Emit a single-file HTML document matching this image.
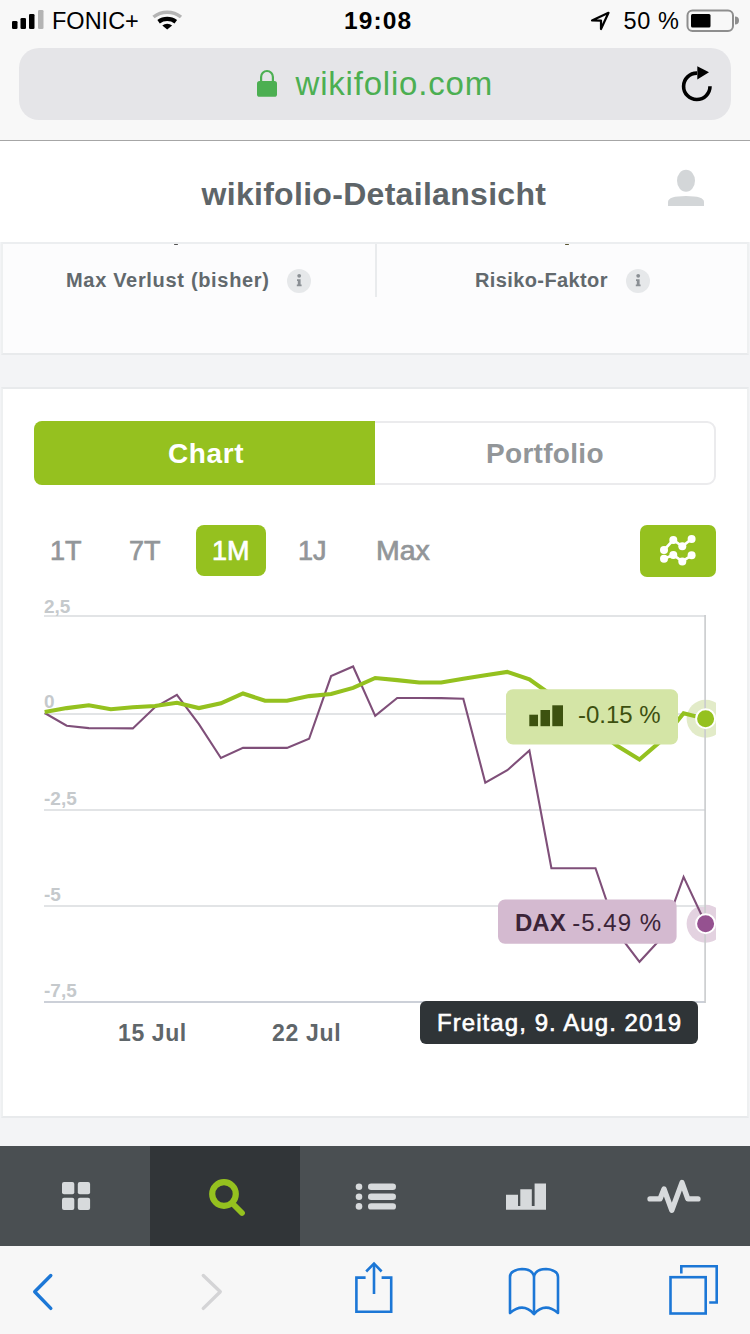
<!DOCTYPE html>
<html><head><meta charset="utf-8">
<style>
*{margin:0;padding:0;box-sizing:border-box}
html,body{width:750px;height:1334px;overflow:hidden;background:#f3f4f6;font-family:"Liberation Sans",sans-serif}
.a{position:absolute}
.t{position:absolute;white-space:nowrap;line-height:1}
</style></head><body>
<!-- Safari top -->
<div class="a" style="left:0;top:0;width:750px;height:140px;background:#f8f8f8"></div>
<div class="a" style="left:0;top:140px;width:750px;height:1px;background:#a6a6a6"></div>
<!-- status bar -->
<svg class="a" style="left:0;top:0" width="750" height="40">
  <rect x="12" y="21" width="5.5" height="8" rx="1.3" fill="#000"/>
  <rect x="20.5" y="18" width="5.5" height="11" rx="1.3" fill="#000"/>
  <rect x="29" y="14" width="5.5" height="15" rx="1.3" fill="#000"/>
  <rect x="38" y="10" width="5.5" height="19" rx="1.3" fill="#b4b4b4"/>
  <path d="M153.5,17 A22,22 0 0 1 181,17" stroke="#b4b4b4" stroke-width="3.5" fill="none"/>
  <path d="M158.6,21.8 A14.5,14.5 0 0 1 175.8,21.8" stroke="#000" stroke-width="4.2" fill="none"/>
  <path d="M167.2,29.6 L162.3,25.6 A7.6,7.6 0 0 1 172.1,25.6 Z" fill="#000"/>
  <path d="M592,20.5 L608.5,12.8 L601,29 L601,20.6 Z" stroke="#000" stroke-width="2.2" fill="none" stroke-linejoin="round"/>
  <rect x="687.5" y="10.5" width="45.5" height="20.5" rx="5" stroke="#8e8e8e" stroke-width="2" fill="none"/>
  <rect x="691" y="14" width="19.5" height="13.5" rx="1.5" fill="#000"/>
  <path d="M735,16.5 A4,4 0 0 1 735,24.5 Z" fill="#8e8e8e"/>
</svg>
<div class="t" style="left:52px;top:9.5px;font-size:23.5px;color:#000">FONIC+</div>
<div class="t" style="left:344px;top:8.5px;font-size:24.5px;font-weight:bold;color:#000;letter-spacing:1.1px">19:08</div>
<div class="t" style="left:623.5px;top:9.5px;font-size:23.5px;color:#000;letter-spacing:0.6px">50 %</div>
<!-- URL bar -->
<div class="a" style="left:19px;top:48px;width:712px;height:72px;border-radius:20px;background:#e5e5e8"></div>
<svg class="a" style="left:250px;top:60px" width="40" height="45">
  <path d="M11.1,21.5 V16.9 A5.9,5.9 0 0 1 22.9,16.9 V21.5" stroke="#4caf52" stroke-width="2.2" fill="none"/>
  <rect x="7" y="20.9" width="20" height="15.9" rx="2.6" fill="#4caf52"/>
</svg>
<div class="t" style="left:295.5px;top:67.2px;font-size:33px;color:#4caf52;letter-spacing:0.8px">wikifolio.com</div>
<svg class="a" style="left:670px;top:58px" width="50" height="50">
  <path d="M40,28.3 A13.2,13.2 0 1 1 27,15.1" stroke="#000" stroke-width="3.6" fill="none"/>
  <path d="M27.3,8.2 L39,14.2 L27.3,21.5 Z" fill="#000"/>
</svg>

<!-- header -->
<div class="a" style="left:0;top:141px;width:750px;height:101px;background:#fff"></div>
<div class="t" style="left:201.5px;top:178px;font-size:32px;font-weight:bold;color:#5e6569;letter-spacing:0.3px">wikifolio-Detailansicht</div>
<svg class="a" style="left:660px;top:165px" width="50" height="45">
  <ellipse cx="26" cy="15.7" rx="9" ry="11" fill="#d3d6d8"/>
  <path d="M8,41 V37 Q8,31 26,31 Q44,31 44,37 V41 Z" fill="#d3d6d8"/>
</svg>

<!-- card 1 -->
<div class="a" style="left:1px;top:242px;width:748px;height:113px;background:#fcfcfd;border-top:2px solid #eceef0;border-bottom:2px solid #e8eaec;border-left:2px solid #eef0f1;border-right:2px solid #eef0f1"></div>
<div class="a" style="left:375px;top:244px;width:2px;height:53px;background:#e9ebed"></div>
<div class="t" style="left:66px;top:270px;font-size:20px;font-weight:bold;color:#62696d;letter-spacing:0.68px">Max Verlust (bisher)</div>
<div class="a" style="left:287px;top:269px;width:24px;height:24px;border-radius:50%;background:#e6e8ea"></div>
<svg class="a" style="left:287px;top:269px" width="24" height="24"><g fill="#8a8f94"><circle cx="12.2" cy="6.8" r="1.9"/><path d="M10,10.3 H13.6 V15.6 H14.6 V17.3 H9.8 V15.6 H10.8 V12 H10 Z"/></g></svg>
<div class="t" style="left:475px;top:270px;font-size:20px;font-weight:bold;color:#62696d;letter-spacing:0.39px">Risiko-Faktor</div>
<div class="a" style="left:626px;top:269px;width:24px;height:24px;border-radius:50%;background:#e6e8ea"></div>
<svg class="a" style="left:626px;top:269px" width="24" height="24"><g fill="#8a8f94"><circle cx="12.2" cy="6.8" r="1.9"/><path d="M10,10.3 H13.6 V15.6 H14.6 V17.3 H9.8 V15.6 H10.8 V12 H10 Z"/></g></svg>

<div class="a" style="left:174px;top:243.5px;width:4px;height:1.6px;background:#555;border-radius:1px"></div>
<div class="a" style="left:565px;top:243.5px;width:4px;height:1.6px;background:#5a5530;border-radius:1px"></div>
<!-- card 2 -->
<div class="a" style="left:1px;top:387px;width:748px;height:731px;background:#fff;border-top:2px solid #e8eaec;border-bottom:2px solid #e8eaec;border-left:2px solid #eef0f1;border-right:2px solid #eef0f1"></div>
<!-- segmented -->
<div class="a" style="left:34px;top:421px;width:682px;height:64px;border-radius:9px;border:2px solid #ebebed;background:#fff"></div>
<div class="a" style="left:34px;top:421px;width:341px;height:64px;border-radius:8px 0 0 8px;background:#95c11f"></div>
<div class="t" style="left:168px;top:440px;font-size:28px;font-weight:bold;color:#fff;letter-spacing:0.6px">Chart</div>
<div class="t" style="left:486px;top:440px;font-size:28px;font-weight:bold;color:#929699;letter-spacing:0.3px">Portfolio</div>
<!-- periods -->
<div class="a" style="left:196px;top:525px;width:70px;height:51px;border-radius:8px;background:#95c11f"></div>
<div class="t" style="left:50px;top:538px;font-size:27px;color:#929699;-webkit-text-stroke:0.7px #929699">1T</div>
<div class="t" style="left:129px;top:538px;font-size:27px;color:#929699;-webkit-text-stroke:0.7px #929699">7T</div>
<div class="t" style="left:212px;top:538px;font-size:27px;color:#fff;-webkit-text-stroke:0.7px #fff">1M</div>
<div class="t" style="left:298px;top:538px;font-size:27px;color:#929699;-webkit-text-stroke:0.7px #929699">1J</div>
<div class="t" style="left:376.3px;top:538px;font-size:27px;color:#929699;-webkit-text-stroke:0.7px #929699;transform:scaleX(1.055);transform-origin:0 0">Max</div>
<div class="a" style="left:640px;top:525px;width:76px;height:52px;border-radius:7px;background:#95c11f"></div>
<svg class="a" style="left:640px;top:525px" width="76" height="52">
  <g stroke="#fff" stroke-width="2.6" fill="none"><path d="M24,25 L33.3,15 L42.3,21.3 L51.6,14"/><path d="M24,33.7 L33.3,30 L42.3,36.4 L51.6,30.3"/></g>
  <g fill="#fff"><circle cx="24" cy="25" r="4"/><circle cx="33.3" cy="15" r="4"/><circle cx="42.3" cy="21.3" r="4"/><circle cx="51.6" cy="14" r="4"/>
  <circle cx="24" cy="33.7" r="4"/><circle cx="33.3" cy="30" r="4"/><circle cx="42.3" cy="36.4" r="4"/><circle cx="51.6" cy="30.3" r="4"/></g>
</svg>

<!-- chart -->
<svg class="a" style="left:0;top:0" width="750" height="1334">
  <defs><clipPath id="cp"><rect x="0" y="590" width="716" height="420"/></clipPath></defs>
  <g clip-path="url(#cp)">
    <circle cx="705.6" cy="718.7" r="19" fill="#dfe9c2" fill-opacity="0.9"/>
    <circle cx="705.6" cy="923.7" r="19" fill="#e3d2e0"/>
  </g>
  <g fill="#e2e4e6">
    <rect x="44" y="615" width="661" height="2"/>
    <rect x="44" y="713" width="661" height="2"/>
    <rect x="44" y="809" width="661" height="2"/>
    <rect x="44" y="905" width="661" height="2"/>
  </g>
  <rect x="44" y="1001" width="661" height="2" fill="#ccd0d8"/>
  <rect x="704.3" y="615" width="1.6" height="388" fill="#c9cbcd"/>
  <g font-family="Liberation Sans" font-weight="bold" font-size="19" fill="#c5c9cc">
    <text x="44" y="613">2,5</text>
    <text x="44" y="708">0</text>
    <text x="44" y="805">-2,5</text>
    <text x="44" y="901">-5</text>
    <text x="44" y="997">-7,5</text>
  </g>
  <polyline fill="none" stroke="#7f4f79" stroke-width="2.1" stroke-linejoin="miter" points="44.7,713.0 66.7,725.7 88.8,728.1 110.8,728.3 132.8,728.4 154.9,707.3 176.9,694.8 198.9,724.1 220.9,758.0 243.0,747.9 265.0,747.9 287.0,747.9 309.1,738.8 331.1,676.1 353.1,666.5 375.2,715.9 397.2,698.0 419.2,698.0 441.2,698.1 463.3,698.7 485.3,782.7 507.3,770.2 529.4,750.5 551.4,868.2 573.4,868.2 595.5,868.2 617.5,933.0 639.5,961.8 661.5,938.0 683.6,876.9 705.6,923.7"/>
  <polyline fill="none" stroke="#94c11f" stroke-width="4.1" stroke-linejoin="miter" points="44.7,712.1 66.7,708.1 88.8,705.2 110.8,709.2 132.8,707.3 154.9,706.0 176.9,702.8 198.9,708.1 220.9,703.3 243.0,693.5 265.0,700.7 287.0,700.7 309.1,696.1 331.1,694.0 353.1,687.9 375.2,678.0 397.2,680.1 419.2,682.5 441.2,682.5 463.3,678.8 485.3,675.3 507.3,671.9 529.4,679.3 551.4,695.0 573.4,712.0 595.5,730.0 617.5,746.0 639.5,759.5 661.5,740.5 683.6,713.3 705.6,718.7"/>
  <circle cx="705.6" cy="718.7" r="9.5" fill="#95c11f" stroke="#fff" stroke-width="2"/>
  <circle cx="705.6" cy="923.7" r="9.5" fill="#955190" stroke="#fff" stroke-width="2"/>
  <!-- labels -->
  <rect x="506" y="689.3" width="172" height="55.2" rx="7" fill="#d4e5a6"/>
  <g fill="#3d5210">
    <rect x="529.3" y="714.7" width="8.7" height="11.5"/>
    <rect x="540.5" y="710" width="9.5" height="16.2"/>
    <rect x="552.3" y="705.3" width="10.7" height="20.9"/>
  </g>
  <text x="578" y="723" font-family="Liberation Sans" font-size="24" fill="#3d5010">-0.15 %</text>
  <rect x="498" y="899.4" width="178.6" height="44.4" rx="7" fill="#d4bad0"/>
  <text x="515" y="931" font-family="Liberation Sans" font-size="24" fill="#3b2438"><tspan font-weight="bold">DAX</tspan> <tspan letter-spacing="1">-5.49 %</tspan></text>
  <!-- tooltip -->
  <rect x="420" y="1001" width="278" height="43" rx="6" fill="#2f3437"/>
  <text x="437" y="1030.8" font-family="Liberation Sans" font-size="24" letter-spacing="1.07" fill="#fff" stroke="#fff" stroke-width="0.6">Freitag, 9. Aug. 2019</text>
  <g font-family="Liberation Sans" font-weight="bold" font-size="23" fill="#5f666a">
    <text x="118" y="1041" letter-spacing="0.6">15 Jul</text>
    <text x="272" y="1041" letter-spacing="0.7">22 Jul</text>
  </g>
</svg>

<!-- bottom nav -->
<div class="a" style="left:0;top:1146px;width:750px;height:100px;background:#4a4f52"></div>
<div class="a" style="left:150px;top:1146px;width:150px;height:100px;background:#313538"></div>
<svg class="a" style="left:0;top:1146px" width="750" height="100">
  <g fill="#d7dadc">
    <rect x="62" y="36" width="12.3" height="12.3" rx="2"/><rect x="77.8" y="36" width="12.3" height="12.3" rx="2"/>
    <rect x="62" y="51.7" width="12.3" height="12.3" rx="2"/><rect x="77.8" y="51.7" width="12.3" height="12.3" rx="2"/>
  </g>
  <circle cx="224" cy="48" r="11.8" stroke="#95c11f" stroke-width="6.2" fill="none"/>
  <path d="M234.5,59.5 L242,67" stroke="#95c11f" stroke-width="5.8" stroke-linecap="round"/>
  <g fill="#d7dadc">
    <circle cx="359" cy="40.8" r="3.3"/><circle cx="359" cy="50.8" r="3.3"/><circle cx="359" cy="60.4" r="3.3"/>
    <rect x="368" y="37.6" width="28" height="6.4" rx="3.2"/><rect x="368" y="47.6" width="28" height="6.4" rx="3.2"/><rect x="368" y="57.2" width="28" height="6.4" rx="3.2"/>
  </g>
  <path fill="#d7dadc" d="M506,48.7 H518 V60 H520.3 V43.3 H531.8 V60 H534.6 V37.5 H546 V63.8 H506 Z"/>
  <path d="M650,52.9 H660 L664,43 L671.8,64.3 L682,36.6 L687.8,52.9 H698" stroke="#d7dadc" stroke-width="5.3" fill="none" stroke-linecap="round" stroke-linejoin="round"/>
</svg>

<!-- safari toolbar -->
<div class="a" style="left:0;top:1246px;width:750px;height:88px;background:#f7f7f7"></div>
<svg class="a" style="left:0;top:1246px" width="750" height="88">
  <g fill="none" stroke-width="3.4" stroke-linecap="round" stroke-linejoin="round">
    <path d="M50.8,29.5 L34.7,45.7 L50.8,62.4" stroke="#1c77d6"/>
    <path d="M203.3,29.5 L220.3,45.7 L203.3,62.4" stroke="#d4d4d6"/>
  </g>
  <g fill="none" stroke="#1c77d6" stroke-width="2.6">
    <path d="M365.6,31.6 H356.4 V65.7 H391.2 V31.6 H381.6"/>
    <path d="M374,48 V18.5"/>
    <path d="M366.2,25.5 L374,17.5 L381.6,25.5" stroke-linejoin="miter"/>
    <path d="M510,67 V31 Q510,24 522,23 Q532,23 534,30 Q536,23 546,23 Q558,24 558,31 V67 Q545,56 534,68 Q523,56 510,67 Z" stroke-linejoin="round"/>
    <path d="M534,30 V67"/>
    <rect x="670.5" y="31.2" width="35.2" height="36.3"/>
    <path d="M681.3,27.5 V20.3 H716.7 V56.5 H709.2"/>
  </g>
</svg>
</body></html>
